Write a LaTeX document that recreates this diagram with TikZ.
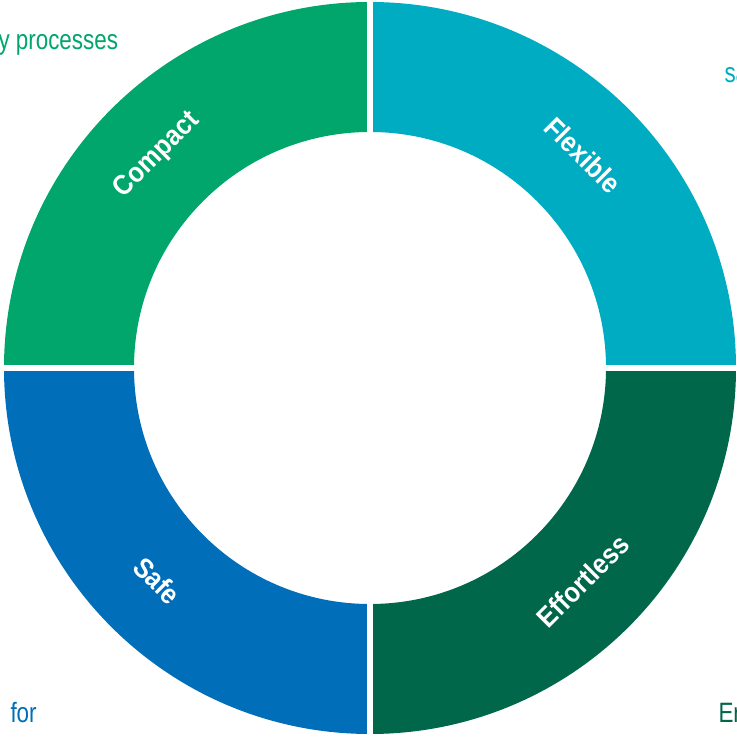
\documentclass[tikz,border=0pt]{standalone}
\usepackage{fontspec}
\setmainfont{Liberation Sans}
\newfontfamily\narrowfont[FakeStretch=0.8]{Liberation Sans}
\newfontfamily\lblfont[FakeStretch=0.9]{Liberation Sans}
\definecolor{flexcol}{RGB}{0,172,193}
\definecolor{compcol}{RGB}{0,166,108}
\definecolor{safecol}{RGB}{0,110,184}
\definecolor{effcol}{RGB}{0,103,74}
\begin{document}
\begin{tikzpicture}[
          x = 1bp, y = 1bp,
          gap/.style = {draw=white, line width=6bp},
          lbl/.style = {text=white, font=\lblfont\fontsize{28bp}{30bp}\selectfont\bfseries},
          side/.style = {anchor=base west, text=#1, font=\narrowfont\fontsize{28bp}{32bp}\selectfont},
        ]
          \useasboundingbox (0,0) rectangle (737,738);
          \coordinate (c) at (370,370);
          % ring quadrants
          \foreach \a/\col in {0/flexcol, 90/compcol, 180/safecol, 270/effcol}
            \fill[\col] (c) ++(\a:366) arc[start angle=\a, delta angle=90, radius=366]
              -- ++(\a+270:130) arc[start angle=\a+90, delta angle=-90, radius=236] -- cycle;
          \coordinate (gt) at (370,740);
          \coordinate (gb) at (370,0);
          \coordinate (gl) at (0,370);
          \coordinate (gr) at (740,370);
          \draw[gap] (gt) -- (gb);
          \draw[gap] (gl) -- (gr);
          % labels
          \node[lbl, rotate=-45] (flex) at ([shift={(45:301)}]c) {Flexible};
          \node[lbl, rotate=45] (comp) at ([shift={(135:301)}]c) {Compact};
          \node[lbl, rotate=-45] (safe) at ([shift={(225:301)}]c) {Safe};
          \node[lbl, rotate=45] (eff) at ([shift={(315:301)}]c) {Effortless};
          % cut-off texts at the sides
          \node[side=compcol] (proc) at (-5,688) {y processes};
          \node[side=flexcol] (sa) at (721,655) {sa};
          \node[side=safecol] (for) at (7,15) {for};
          \node[side=effcol] (er) at (715,15) {Er};
        \end{tikzpicture}
\end{document}
